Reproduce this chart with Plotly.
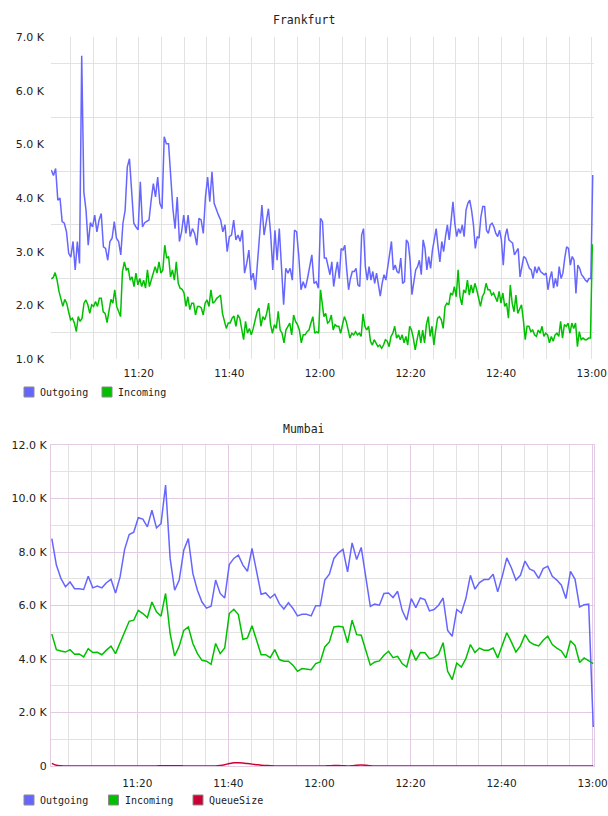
import plotly.graph_objects as go
import pandas as pd

DAY = "2024-01-01 "

# ---------------- Frankfurt (K) ----------------
fra_out_h1 = [4.52,4.42,4.55,3.96,4.00,3.56,3.53,3.37,2.97,2.90,3.19,2.66,3.19,2.78,6.65,4.11,3.77,3.12,3.54,3.46,
              3.68,3.37,3.59,3.71,3.09,3.06,2.84,3.19,3.25,3.56,3.25,3.19,2.94,3.53,3.77,4.58,4.73,4.02,3.53,3.46,
              3.41,4.30,3.46,3.54,3.56,3.59,3.96,4.27,4.02,4.39,3.90,3.80,5.14,5.01,5.01,4.33,3.80,3.43,4.02,3.19,
              3.37,3.68,3.34,3.68,3.28,3.43,3.34,3.12,3.62,3.59,3.34,4.02,4.39,3.93,4.49,3.90,3.77,3.68,3.59,3.37,
              3.50,3.00,3.28,3.31,3.59,3.22,3.31,3.19,3.40,2.60,2.78,3.03,2.47,2.60,2.29,2.88,3.46,3.87,3.31,3.59,
              3.80,3.34,2.66,3.40,2.84,3.43,2.66,2.01,2.69,2.60,2.69,2.47,3.40,3.37,2.91,2.29,2.44,2.32,2.50,2.72,
              2.94,2.41,2.44,2.32,3.62]
fra_out_h2 = [3.56,2.88,2.88,2.72,2.57,2.81,2.35,2.60,2.81,2.50,3.06,3.03,3.12,2.66,2.29,2.50,2.63,2.63,2.69,2.38,
              2.35,3.31,3.43,2.72,2.47,2.72,2.47,2.63,2.41,2.60,2.41,2.17,2.41,2.57,2.47,2.72,2.97,3.19,2.66,2.75,
              2.63,2.60,2.88,2.41,2.44,3.22,3.16,2.84,2.20,2.44,2.66,2.72,2.84,2.57,3.22,3.06,2.66,2.91,2.69,3.03,
              3.25,3.43,3.09,2.81,3.19,3.00,3.28,3.50,3.22,3.53,3.93,3.53,3.28,3.43,3.34,3.50,3.28,3.77,3.90,3.96,
              3.77,3.50,3.06,3.28,3.25,3.65,3.84,3.84,3.40,3.34,3.50,3.53,3.46,3.34,3.28,3.40,3.22,2.75,3.28,3.43,
              3.22,3.19,3.16,2.94,3.00,3.06,2.53,2.72,2.91,2.88,2.78,2.69,2.66,2.50,2.72,2.60,2.72,2.63,2.60,2.57,
              2.60,2.29,2.50,2.63,2.32,2.50,2.35,2.72,2.50,2.60,2.88,3.09,3.06,2.75,2.91,2.84,2.22,2.75,2.69,2.57,
              2.53,2.47,2.44,2.50,2.50,4.43]
fra_in_h1 = [2.49,2.52,2.61,2.47,2.26,2.13,1.98,2.11,2.04,1.88,1.73,1.76,1.67,1.51,1.79,1.70,1.76,2.04,2.10,2.01,
             1.85,2.01,1.98,2.07,1.98,2.13,2.13,1.88,1.85,1.68,1.88,2.11,2.04,2.29,1.98,1.88,1.79,2.63,2.81,2.66,
             2.69,2.47,2.53,2.35,2.60,2.38,2.50,2.35,2.47,2.32,2.66,2.35,2.47,2.63,2.72,2.60,2.81,2.60,2.66,3.12,
             2.88,2.91,2.53,2.66,2.47,2.81,2.41,2.32,2.30,2.23,1.98,2.16,1.92,2.04,2.04,1.82,1.98,1.98,1.95,1.82,
             2.04,2.10,1.98,2.29,2.04,2.07,2.13,2.16,2.19,1.85,1.73,1.57,1.67,1.67,1.76,1.80,1.61,1.82,1.76,1.54,
             1.36,1.70,1.48,1.57,1.45,1.57,1.73,1.88,1.95,1.61,1.79,1.73,1.85,2.04,1.64,1.48,1.64,1.57,1.89,1.54,
             1.48,1.30,1.54,1.61,1.67,1.45,1.82,1.70,1.64,1.54,1.30,1.45,1.45,1.51,1.54,1.67,1.79,1.48,1.51,1.48,
             2.29]
fra_in_h2 = [1.79,1.85,1.67,1.70,1.82,1.54,1.64,1.61,1.61,1.48,1.64,1.79,1.70,1.54,1.39,1.48,1.45,1.51,1.45,1.48,
             1.42,1.84,1.61,1.54,1.61,1.33,1.26,1.36,1.30,1.23,1.26,1.20,1.26,1.36,1.33,1.23,1.42,1.48,1.61,1.39,
             1.45,1.36,1.45,1.30,1.42,1.26,1.61,1.54,1.39,1.17,1.36,1.54,1.30,1.54,1.30,1.64,1.79,1.42,1.61,1.26,
             1.54,1.76,1.79,1.73,1.57,1.98,2.04,2.01,2.23,2.19,2.35,2.16,2.66,2.16,2.01,2.29,2.23,2.47,2.19,2.38,
             2.23,2.41,2.29,2.16,1.98,2.16,2.23,2.41,2.29,2.29,2.19,2.23,2.16,2.07,2.26,2.04,2.23,1.98,2.04,1.76,
             2.38,2.04,1.88,2.19,1.85,1.92,2.01,1.73,1.36,1.61,1.61,1.51,1.54,1.45,1.42,1.54,1.48,1.61,1.42,1.48,
             1.45,1.30,1.42,1.33,1.45,1.48,1.42,1.70,1.39,1.64,1.61,1.67,1.48,1.67,1.57,1.67,1.23,1.51,1.36,1.39,
             1.36,1.36,1.39,1.39,3.14]

# sampling windows of each recorded hour
fra_out_win = [("11:00:42", "12:00:08"), ("12:00:34", "13:00:13")]
fra_in_win = [("11:00:42", "12:00:08"), ("12:00:52", "13:00:08")]

# ---------------- Mumbai (K) ----------------
mum_out = [8.50,7.51,7.01,6.70,6.88,6.63,6.63,6.60,7.09,6.66,6.73,6.66,6.85,6.98,6.47,7.07,8.10,8.65,8.74,9.28,
           9.23,8.94,9.56,8.90,9.06,10.50,7.76,6.57,6.95,8.07,8.50,7.19,6.57,6.13,5.90,5.97,6.95,6.45,6.28,7.53,
           7.76,7.88,7.51,7.28,8.13,7.32,6.42,6.47,6.28,6.42,6.07,5.87,6.10,5.89,5.61,5.67,5.67,5.61,5.99,5.99,
           6.95,7.17,7.76,7.97,8.10,7.26,8.34,7.72,8.17,7.07,5.97,6.05,6.01,6.45,6.47,6.30,6.53,5.82,5.45,6.26,
           5.92,6.28,6.22,5.80,5.85,6.01,6.28,5.07,4.85,5.85,5.72,6.26,7.13,6.61,6.86,6.97,6.97,7.17,6.51,7.09,
           7.78,7.41,6.95,7.13,7.66,7.37,7.29,7.01,7.38,7.47,7.09,6.95,6.76,6.26,7.28,6.98,5.95,6.03,6.05,1.46]
mum_in = [4.93,4.35,4.30,4.26,4.35,4.18,4.19,4.08,4.39,4.24,4.25,4.16,4.33,4.48,4.20,4.60,5.07,5.41,5.45,5.82,
          5.70,5.55,6.13,5.76,5.60,6.45,4.95,4.11,4.48,5.07,5.20,4.58,4.20,3.95,3.92,3.80,4.58,4.20,4.41,5.70,
          5.86,5.66,4.73,4.79,5.24,4.70,4.16,4.16,4.05,4.35,3.98,3.92,3.92,3.77,3.54,3.64,3.62,3.60,3.83,3.89,
          4.45,4.64,5.20,5.22,5.20,4.61,5.45,4.91,4.89,4.33,3.77,3.89,3.93,4.14,4.29,4.05,4.10,3.83,3.70,4.35,
          3.95,4.24,4.23,4.01,4.05,4.18,4.61,3.54,3.23,3.85,3.70,4.01,4.54,4.24,4.41,4.33,4.33,4.41,4.04,4.51,
          4.98,4.64,4.26,4.49,4.91,4.64,4.54,4.49,4.70,4.85,4.54,4.41,4.30,4.04,4.68,4.51,3.87,4.04,3.95,3.83]
mum_queue = [0.10,0.03,0.01,0,0,0,0,0,0,0,0,0,0,0,0,0,0,0,0,0,
             0,0,0,0,0.01,0.01,0.01,0.01,0.01,0,0,0,0,0,0,0,0,0.02,0.05,0.09,
             0.12,0.12,0.11,0.09,0.07,0.05,0.03,0.02,0.01,0,0,0,0,0,0,0,0,0,0,0,
             0,0.01,0.02,0.02,0.01,0,0.01,0.03,0.04,0.03,0.01,0,0,0,0,0,0,0,0,0,
             0,0,0,0,0,0,0,0,0,0,0,0,0,0,0,0,0,0,0,0,
             0,0,0,0,0,0,0,0,0,0,0,0,0,0,0,0,0,0,0,0]
mum_win = ("11:01:14", "13:00:08")

x_ticks = ["11:20", "11:40", "12:00", "12:20", "12:40", "13:00"]
fra_y_ticks = [1, 2, 3, 4, 5, 6, 7]
mum_y_ticks = [0, 2, 4, 6, 8, 10, 12]
fra_series = ["Outgoing", "Incoming"]
mum_series = ["Outgoing", "Incoming", "QueueSize"]


def span(win, n):
    return list(pd.date_range(DAY + win[0], DAY + win[1], periods=n))


def two_hours(h1, h2, wins):
    return span(wins[0], len(h1)) + span(wins[1], len(h2)), h1 + h2


def klabel(v):
    return "0" if v == 0 else f"{v:.1f} K"


BLUE = "#6666ff"
GREEN = "#00c000"
RED = "#cc0033"
COLORS = {"Outgoing": BLUE, "Incoming": GREEN, "QueueSize": RED}
GRID = "#e2e2e2"
MAJOR = "#e3cbe6"
TXT = "#222222"
W, H = 608, 816

fig = go.Figure()

fx, fy = two_hours(fra_out_h1, fra_out_h2, fra_out_win)
fig.add_trace(go.Scatter(x=fx, y=fy, mode="lines", name="Outgoing", line=dict(color=BLUE, width=1.5),
                         showlegend=False, xaxis="x", yaxis="y"))
fx, fy = two_hours(fra_in_h1, fra_in_h2, fra_in_win)
fig.add_trace(go.Scatter(x=fx, y=fy, mode="lines", name="Incoming", line=dict(color=GREEN, width=1.5),
                         showlegend=False, xaxis="x", yaxis="y"))

mx = span(mum_win, len(mum_out))
fig.add_trace(go.Scatter(x=mx, y=mum_out, mode="lines", name="Outgoing", line=dict(color=BLUE, width=1.5),
                         showlegend=False, xaxis="x2", yaxis="y2"))
fig.add_trace(go.Scatter(x=mx, y=mum_in, mode="lines", name="Incoming", line=dict(color=GREEN, width=1.5),
                         showlegend=False, xaxis="x2", yaxis="y2"))
fig.add_trace(go.Scatter(x=mx, y=mum_queue, mode="lines", name="QueueSize",
                         line=dict(color=RED, width=1.5, shape="spline"),
                         showlegend=False, xaxis="x2", yaxis="y2"))

xdom = [51 / W, 594 / W]
tick_font = dict(family="DejaVu Sans", size=10.5, color=TXT)
xtv = [DAY + t for t in x_ticks]


def xaxis(anchor, rng, major, border, standoff):
    return dict(domain=xdom, anchor=anchor, type="date", range=[DAY + rng[0], DAY + rng[1]],
                tickmode="array", tickvals=xtv, ticktext=x_ticks, ticks="", automargin=False,
                showgrid=True, gridcolor=major, gridwidth=1, zeroline=False,
                showline=border, linecolor=MAJOR, mirror=border,
                minor=dict(dtick=300000, showgrid=True, gridcolor=GRID, gridwidth=1, ticks=""),
                tickfont=tick_font, ticklabelstandoff=standoff)


# hand-placed legend rows (swatch + label), in pixel layout units
def legend_row(names, y_px, step):
    shapes, annos = [], []
    for i, nm in enumerate(names):
        x0 = 24 + i * step
        shapes.append(dict(type="rect", xref="paper", yref="paper",
                           x0=x0 / W, x1=(x0 + 10) / W, y0=1 - (y_px + 5) / H, y1=1 - (y_px - 5) / H,
                           fillcolor=COLORS[nm], line=dict(color="#8a8a8a", width=1)))
        annos.append(dict(text=nm, x=(x0 + 14) / W, y=1 - y_px / H, xref="paper", yref="paper",
                          showarrow=False, xanchor="left", yanchor="middle",
                          font=dict(family="DejaVu Sans Mono", size=10, color=TXT)))
    return shapes, annos


s1, a1 = legend_row(fra_series, 392, 78)
s2, a2 = legend_row(mum_series, 800, 84.5)

fig.update_layout(
    width=W, height=H, margin=dict(l=0, r=0, t=0, b=0, autoexpand=False),
    paper_bgcolor="white", plot_bgcolor="white", showlegend=False,
    xaxis=xaxis("y", ("11:00:38", "13:00:30"), GRID, False, 6),
    xaxis2=xaxis("y2", ("11:01:03", "13:00:18"), MAJOR, True, 7),
    yaxis=dict(domain=[1 - 359 / H, 1 - 37 / H], anchor="x", range=[1, 7], automargin=False,
               tickmode="array", tickvals=fra_y_ticks, ticktext=[klabel(v) for v in fra_y_ticks],
               showgrid=False, zeroline=False, ticks="",
               minor=dict(tickmode="array", tickvals=[v + 0.5 for v in fra_y_ticks[:-1]],
                          showgrid=True, gridcolor=GRID, gridwidth=1, ticks=""),
               tickfont=dict(family="DejaVu Sans", size=11, color=TXT), ticklabelstandoff=6),
    yaxis2=dict(domain=[1 - 766 / H, 1 - 445 / H], anchor="x2", range=[0, 12], automargin=False,
                tickmode="array", tickvals=mum_y_ticks, ticktext=[klabel(v) for v in mum_y_ticks],
                showgrid=True, gridcolor=MAJOR, gridwidth=1, zeroline=False, ticks="",
                showline=True, linecolor=MAJOR, mirror=True,
                minor=dict(dtick=1, showgrid=True, gridcolor=GRID, gridwidth=1, ticks=""),
                tickfont=dict(family="DejaVu Sans", size=11, color=TXT), ticklabelstandoff=1),
    shapes=s1 + s2,
    annotations=[
        dict(text="Frankfurt", x=304 / W, y=1 - 20 / H, xref="paper", yref="paper", showarrow=False,
             xanchor="center", yanchor="middle", font=dict(family="DejaVu Sans Mono", size=11.5, color=TXT)),
        dict(text="Mumbai", x=304 / W, y=1 - 429 / H, xref="paper", yref="paper", showarrow=False,
             xanchor="center", yanchor="middle", font=dict(family="DejaVu Sans Mono", size=11.5, color=TXT)),
    ] + a1 + a2,
)

fig.write_html("out.html")
